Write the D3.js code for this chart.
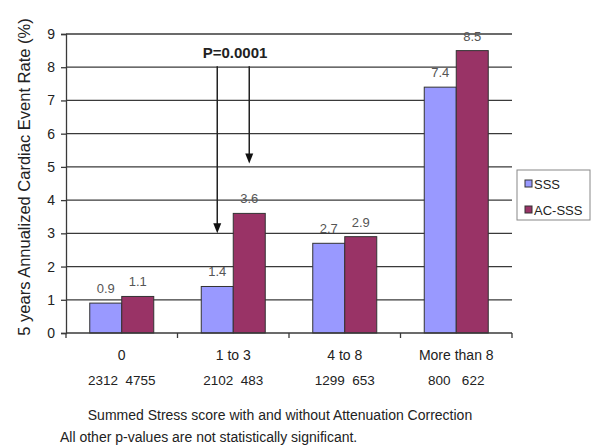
<!DOCTYPE html>
<html><head><meta charset="utf-8">
<script src="https://cdn.jsdelivr.net/npm/d3@7"></script>
<style>body{margin:0;background:#fff;}svg{display:block;font-family:"Liberation Sans",Arial,sans-serif;}</style>
</head><body>
<svg id="c" width="591" height="445"></svg>
<script>
const categories = ["0", "1 to 3", "4 to 8", "More than 8"];
const seriesNames = ["SSS", "AC-SSS"];
const sssValues = [0.9, 1.4, 2.7, 7.4];
const acValues = [1.1, 3.6, 2.9, 8.5];
const sssCounts = ["2312", "2102", "1299", "800"];
const acCounts = ["4755", "483", "653", "622"];
const yTicks = [0,1,2,3,4,5,6,7,8,9];
const colors = ["#9999FF", "#993366"];
// annotation arrows: [category, series index, start value, end value]
const arrows = [["1 to 3", 0, 8.0, 3.0], ["1 to 3", 1, 8.0, 5.1]];
const pLabel = "P=0.0001";

const svg = d3.select("#c");
const L = 66, R = 512, T = 34, B = 333;
const x = d3.scaleBand().domain(categories).range([L, R]).padding(0);
const y = d3.scaleLinear().domain([0, 9]).range([B, T]);
const barW = 32;
const sub = d3.scaleBand().domain([0,1]).range([-barW, barW]).padding(0);

// gridlines
svg.append("g").selectAll("line").data(yTicks.filter(d=>d>0)).join("line")
  .attr("x1", L).attr("x2", R).attr("y1", d=>y(d)).attr("y2", d=>y(d))
  .attr("stroke", "#3a3a3a").attr("stroke-width", 1.3);

// y axis
const ya = svg.append("g").attr("transform", `translate(${L},0)`)
  .call(d3.axisLeft(y).tickValues(yTicks).tickSize(5).tickPadding(6));
ya.select(".domain").attr("stroke", "#3a3a3a").attr("stroke-width", 1.3);
ya.selectAll(".tick line").attr("stroke", "#3a3a3a").attr("stroke-width", 1.3);
ya.selectAll("text").attr("font-size", 14).attr("fill", "#222").attr("font-family", "Liberation Sans, Arial, sans-serif");

// bars
const data = categories.map((c,i)=>({c, vals:[sssValues[i], acValues[i]]}));
const g = svg.append("g").selectAll("g").data(data).join("g")
  .attr("transform", d=>`translate(${x(d.c)+x.bandwidth()/2},0)`);
g.selectAll("rect").data(d=>d.vals.map((v,k)=>({v,k}))).join("rect")
  .attr("x", d=>sub(d.k)).attr("width", sub.bandwidth())
  .attr("y", d=>y(d.v)).attr("height", d=>B - y(d.v))
  .attr("fill", d=>colors[d.k]).attr("stroke", "#333").attr("stroke-width", 1);
g.selectAll("text.val").data(d=>d.vals.map((v,k)=>({v,k}))).join("text").attr("class","val")
  .attr("x", d=>sub(d.k)+sub.bandwidth()/2).attr("y", d=>y(d.v)-10)
  .attr("text-anchor", "middle").attr("font-size", 13).attr("fill", "#555")
  .text(d=>d.v.toFixed(1));

// x axis
const xa = svg.append("g").attr("transform", `translate(0,${B})`);
xa.append("line").attr("x1", L).attr("x2", R).attr("stroke", "#3a3a3a").attr("stroke-width", 1.3);
xa.selectAll("line.t").data(d3.range(categories.length+1)).join("line").attr("class","t")
  .attr("x1", i=>L + i*x.bandwidth()).attr("x2", i=>L + i*x.bandwidth())
  .attr("y1", 0).attr("y2", 5).attr("stroke", "#3a3a3a").attr("stroke-width", 1.3);
svg.append("g").selectAll("text").data(categories).join("text")
  .attr("x", d=>x(d)+x.bandwidth()/2).attr("y", 360)
  .attr("text-anchor", "middle").attr("font-size", 14).attr("fill", "#222").text(d=>d);
svg.append("g").selectAll("text").data(categories.map((c,i)=>({c, t: sssCounts[i] + (sssCounts[i].length < 4 ? "\u00a0\u00a0\u00a0" : "\u00a0\u00a0") + acCounts[i]}))).join("text")
  .attr("x", d=>x(d.c)+x.bandwidth()/2).attr("y", 385)
  .attr("text-anchor", "middle").attr("font-size", 13.5).attr("fill", "#222").text(d=>d.t);

// titles
svg.append("text").attr("transform", "translate(30,177) rotate(-90)")
  .attr("text-anchor", "middle").attr("font-size", 16.5).attr("fill", "#222")
  .text("5 years Annualized Cardiac Event Rate (%)");
svg.append("text").attr("x", 280).attr("y", 420).attr("text-anchor", "middle")
  .attr("font-size", 14).attr("fill", "#222")
  .text("Summed Stress score with and without Attenuation Correction");
svg.append("text").attr("x", 60).attr("y", 442).attr("font-size", 14).attr("fill", "#222")
  .text("All other p-values are not statistically significant.");

// annotation
svg.append("text").attr("x", 235).attr("y", 58).attr("text-anchor", "middle")
  .attr("font-size", 15).attr("font-weight", "bold").attr("fill", "#222").text(pLabel);
arrows.forEach(([c,k,v0,v1])=>{
  const ax = x(c)+x.bandwidth()/2 + sub(k)+sub.bandwidth()/2;
  svg.append("line").attr("x1", ax).attr("x2", ax).attr("y1", y(v0)-1).attr("y2", y(v1)-8)
    .attr("stroke", "#222").attr("stroke-width", 1.5);
  svg.append("path").attr("d", `M${ax-4},${y(v1)-10}L${ax+4},${y(v1)-10}L${ax},${y(v1)}Z`).attr("fill", "#111");
});

// legend
const lg = svg.append("g").attr("transform", "translate(517,170)");
lg.append("rect").attr("x", 0).attr("y", 0).attr("width", 73).attr("height", 50)
  .attr("fill", "#fff").attr("stroke", "#888");
seriesNames.forEach((n,i)=>{
  lg.append("rect").attr("x", 8).attr("y", 10 + i*26).attr("width", 7).attr("height", 7)
    .attr("fill", colors[i]).attr("stroke", "#333");
  lg.append("text").attr("x", 17).attr("y", 18.5 + i*26).attr("font-size", 13).attr("fill", "#222").text(n);
});
</script>
</body></html>
